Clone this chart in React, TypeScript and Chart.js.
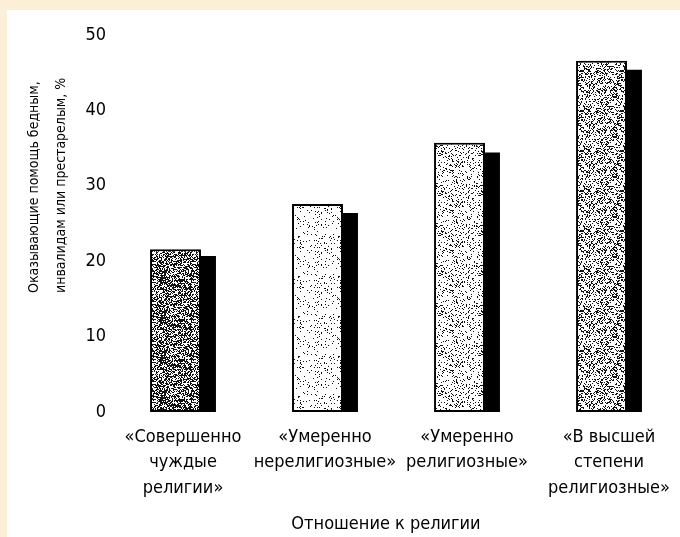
import React, { useEffect, useRef } from "react";
import { Chart, registerables } from "chart.js";

Chart.register(...registerables);

const CATEGORIES: string[][] = [
  ["«Совершенно", "чуждые", "религии»"],
  ["«Умеренно", "нерелигиозные»"],
  ["«Умеренно", "религиозные»"],
  ["«В высшей", "степени", "религиозные»"],
];
const MAIN_VALUES = [21.6, 27.6, 35.7, 46.6];
const SHADOW_VALUES = [20.7, 26.4, 34.4, 45.4];
const PATTERN_DENSITY = [0.55, 0.08, 0.16, 0.32];
const Y_TITLE_LINES = ["Оказывающие помощь бедным,", "инвалидам или престарелым, %"];
const X_TITLE = "Отношение к религии";
const Y_MIN = 0;
const Y_MAX = 50;
const Y_STEP = 10;

const FONT = "'DejaVu Sans Condensed', 'Liberation Sans Narrow', sans-serif";

function makePattern(density: number, seed: number): CanvasPattern | string {
  const size = 40;
  const c = document.createElement("canvas");
  c.width = size;
  c.height = size;
  const g = c.getContext("2d");
  if (!g) return "#ccc";
  g.fillStyle = "#fff";
  g.fillRect(0, 0, size, size);
  g.fillStyle = "#111";
  for (let i = 0; i < size; i++) {
    for (let j = 0; j < size; j++) {
      let h = (i * 73856093) ^ (j * 19349663) ^ (seed * 83492791);
      h = Math.imul(h ^ (h >>> 13), 0x5bd1e995);
      h = (h ^ (h >>> 15)) >>> 0;
      if ((h % 1000) / 1000 < density) g.fillRect(i, j, 1, 1);
    }
  }
  const p = g.createPattern(c, "repeat");
  return p || "#ccc";
}

const titlesPlugin = {
  id: "titlesCustom",
  afterDraw(chart: any) {
    const ctx = chart.ctx;
    ctx.save();
    ctx.fillStyle = "#000";
    ctx.font = "14px " + FONT;
    ctx.textAlign = "left";
    ctx.textBaseline = "middle";
    Y_TITLE_LINES.forEach((line, i) => {
      ctx.save();
      ctx.translate(27 + i * 27, 283);
      ctx.rotate(-Math.PI / 2);
      ctx.fillText(line, 0, 0);
      ctx.restore();
    });
    ctx.font = "18px " + FONT;
    ctx.textAlign = "center";
    ctx.fillText(X_TITLE, chart.chartArea.left + 274, chart.chartArea.bottom + 112);
    ctx.restore();
  },
};

export default function App() {
  const ref = useRef<HTMLCanvasElement | null>(null);

  useEffect(() => {
    if (!ref.current) return;
    const patterns = PATTERN_DENSITY.map((d, i) => makePattern(d, i + 1));
    const chart = new Chart(ref.current, {
      type: "bar",
      data: {
        labels: CATEGORIES,
        datasets: [
          {
            data: MAIN_VALUES,
            backgroundColor: patterns as any,
            borderColor: "#000",
            borderWidth: 2,
            borderSkipped: false,
            categoryPercentage: 0.211,
            barPercentage: 3.4,
          },
          {
            data: SHADOW_VALUES,
            backgroundColor: "#000",
            borderWidth: 0,
            categoryPercentage: 0.211,
            barPercentage: 3.4,
          },
        ],
      },
      options: {
        animation: false,
        responsive: false,
        devicePixelRatio: 1,
        layout: { padding: { top: 25, right: 0, bottom: 2, left: 0 } },
        plugins: {
          legend: { display: false },
          tooltip: { enabled: false },
        },
        scales: {
          x: {
            grid: { display: false, drawTicks: false },
            border: { display: false },
            ticks: {
              color: "#000",
              font: { family: FONT, size: 18, lineHeight: 1.4 },
              padding: 13,
              autoSkip: false,
              maxRotation: 0,
              minRotation: 0,
            },
            title: { display: false },
            afterFit(scale: any) {
              scale.height = 123;
              scale.paddingLeft = 0;
              scale.paddingRight = 0;
            },
          },
          y: {
            min: Y_MIN,
            max: Y_MAX,
            grid: { display: false, drawTicks: false },
            border: { display: false },
            ticks: {
              stepSize: Y_STEP,
              color: "#000",
              font: { family: FONT, size: 18 },
              padding: 6,
            },
            afterFit(scale: any) {
              scale.width = 105;
            },
          },
        },
      },
      plugins: [titlesPlugin],
    });
    return () => chart.destroy();
  }, []);

  return (
    <div
      style={{
        position: "absolute",
        left: 0,
        top: 0,
        width: 680,
        height: 537,
        background: "#FCEFD7",
      }}
    >
      <canvas
        ref={ref}
        width={673}
        height={527}
        style={{ position: "absolute", left: 7, top: 10, width: 673, height: 527, background: "#fff" }}
      />
    </div>
  );
}
